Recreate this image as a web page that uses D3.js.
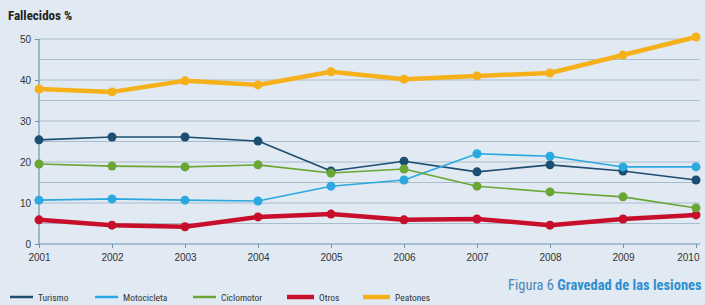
<!DOCTYPE html>
<html>
<head>
<meta charset="utf-8">
<script src="https://cdn.jsdelivr.net/npm/d3@7"></script>
<style>
  body { margin: 0; background: #fff; }
  svg { display: block; }
  text { font-family: "Liberation Sans Narrow", "Roboto Condensed", "Liberation Sans", sans-serif; }
</style>
</head>
<body>
<div class="chart"></div>
<script>
var years = [2001, 2002, 2003, 2004, 2005, 2006, 2007, 2008, 2009, 2010];
var turismo     = [25.4, 26.1, 26.1, 25.1, 17.8, 20.2, 17.6, 19.3, 17.8, 15.6];
var motocicleta = [10.7, 11.0, 10.7, 10.5, 14.1, 15.6, 22.0, 21.4, 18.8, 18.8];
var ciclomotor  = [19.5, 19.0, 18.8, 19.3, 17.3, 18.3, 14.1, 12.7, 11.5, 8.8];
var otros       = [5.9, 4.6, 4.2, 6.6, 7.3, 5.9, 6.1, 4.6, 6.1, 7.1];
var peatones    = [37.8, 37.1, 39.8, 38.8, 42.0, 40.2, 41.0, 41.7, 46.1, 50.5];
var yTicks = [0, 10, 20, 30, 40, 50];

var w = 705,
    h = 305;

var series = [
  {name: 'Turismo',     values: turismo,     color: '#1d4d70', width: 1.6, r: 4.5, lx: 10},
  {name: 'Motocicleta', values: motocicleta, color: '#2ba8e0', width: 1.6, r: 4.5, lx: 95},
  {name: 'Ciclomotor',  values: ciclomotor,  color: '#69a633', width: 1.6, r: 4.5, lx: 193},
  {name: 'Otros',       values: otros,       color: '#c70f2c', width: 4.5, r: 4.5, lx: 287},
  {name: 'Peatones',    values: peatones,    color: '#f6b01a', width: 4.5, r: 4.5, lx: 363}
];

var svg = d3.select('.chart').append('svg').attr('width', w).attr('height', h);

svg.append('rect').attr('width', w).attr('height', h).attr('fill', '#e1eaf2');

var x = d3.scaleLinear().domain([2001, 2010]).range([39, 696]);
var y = d3.scaleLinear().domain([0, 50]).range([244, 39]);

// grid every 5
svg.append('g').selectAll('line')
  .data(d3.range(5, 51, 5))
  .enter().append('line')
  .attr('x1', 39).attr('x2', 700)
  .attr('y1', function (d) { return y(d); })
  .attr('y2', function (d) { return y(d); })
  .attr('stroke', '#a8bccb')
  .attr('stroke-width', 1);

// axes
var yAxis = d3.axisLeft(y).tickValues(yTicks).tickSize(4).tickPadding(4);
var gy = svg.append('g').attr('transform', 'translate(39,0)').call(yAxis);
var xAxis = d3.axisBottom(x).tickValues(years).tickFormat(d3.format('d')).tickSize(4).tickPadding(6);
var gx = svg.append('g').attr('transform', 'translate(0,244)').call(xAxis);

[gx, gy].forEach(function (g) {
  g.select('.domain').attr('stroke', '#6f93b0').attr('stroke-width', 1.2);
  g.selectAll('.tick line').attr('stroke', '#6f93b0');
  g.selectAll('.tick text').attr('fill', '#333').attr('font-size', 10)
    .style('font-family', '"Liberation Sans Narrow", "Liberation Sans", sans-serif');
});
gy.select('.domain').attr('d', 'M0,39V244');
gx.select('.domain').attr('d', 'M39,0H700');
// keep the last year label inside the frame
gx.selectAll('.tick text').filter(function (d) { return d === 2010; })
  .attr('text-anchor', 'end').attr('dx', 3);

var line = d3.line()
  .x(function (d, i) { return x(years[i]); })
  .y(function (d) { return y(d); });

var order = [3, 0, 1, 2, 4];
order.forEach(function (k) {
  var s = series[k];
  var g = svg.append('g');
  g.append('path')
    .attr('d', line(s.values))
    .attr('fill', 'none')
    .attr('stroke', s.color)
    .attr('stroke-width', s.width)
    .attr('stroke-linejoin', 'round');
  g.selectAll('circle')
    .data(s.values)
    .enter().append('circle')
    .attr('cx', function (d, i) { return x(years[i]); })
    .attr('cy', function (d) { return y(d); })
    .attr('r', s.r)
    .attr('fill', s.color);
});

// title
svg.append('text')
  .attr('x', 8).attr('y', 20)
  .attr('font-size', 13).attr('font-weight', 'bold').attr('fill', '#222')
  .text('Fallecidos %');

// legend
var leg = svg.append('g').selectAll('g')
  .data(series)
  .enter().append('g')
  .attr('transform', function (d) { return 'translate(' + d.lx + ',297)'; });
leg.append('line')
  .attr('x1', 0).attr('x2', function (d) { return d.width > 3 ? 27 : 23; })
  .attr('y1', 0).attr('y2', 0)
  .attr('stroke', function (d) { return d.color; })
  .attr('stroke-width', function (d) { return d.width > 3 ? 4.5 : 2.5; });
leg.append('text')
  .attr('x', function (d) { return d.width > 3 ? 32 : 28; })
  .attr('y', 3.5)
  .attr('font-size', 9.5).attr('fill', '#333')
  .text(function (d) { return d.name; });

// caption
var cap = svg.append('text').attr('x', 508).attr('y', 290).attr('font-size', 14.5);
cap.append('tspan').attr('fill', '#4f86b5').text('Figura 6 ');
cap.append('tspan').attr('fill', '#2f8fd0').attr('font-weight', 'bold').text('Gravedad de las lesiones');
</script>
</body>
</html>
